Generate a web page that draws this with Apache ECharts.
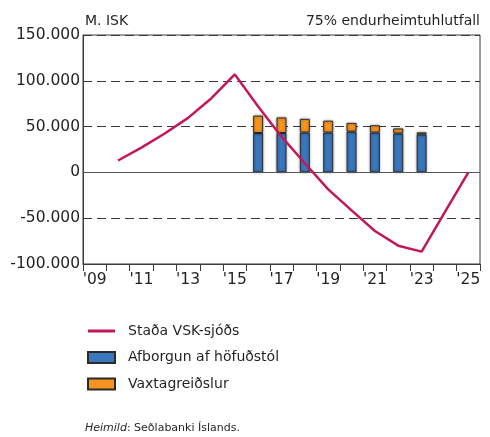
<!DOCTYPE html>
<html>
<head>
<meta charset="utf-8">
<script src="https://cdn.jsdelivr.net/npm/echarts@6/dist/echarts.min.js"></script>
<style>
  html, body { margin: 0; padding: 0; background: #fff; }
  #chart { width: 490px; height: 437px; }
</style>
</head>
<body>
<div id="chart"></div>
<script>
// Years 2009-2025, label every other year
const years = ['2009', '2010', '2011', '2012', '2013', '2014', '2015', '2016', '2017',
  '2018', '2019', '2020', '2021', '2022', '2023', '2024', '2025']
const yearLabels = ["'09", "'10", "'11", "'12", "'13", "'14", "'15", "'16", "'17",
  "'18", "'19", "'20", "'21", "'22", "'23", "'24", "'25"]

// Staða VSK-sjóðs (m. ISK)
const fundBalance = [null, 13000, 27000, 42500, 59500, 81000, 107000, 72000, 39000,
  10000, -18500, -41500, -64000, -80000, -86500, -43000, 0]
// Afborgun af höfuðstól
const principal = [null, null, null, null, null, null, null, 43000, 43000,
  43500, 43500, 44500, 43500, 42500, 41500, null, null]
// Vaxtagreiðslur
const interest = [null, null, null, null, null, null, null, 19000, 17000,
  15000, 13000, 9500, 8000, 5500, 2200, null, null]

const seriesNames = ['Staða VSK-sjóðs', 'Afborgun af höfuðstól', 'Vaxtagreiðslur']

const textColor = '#231f20'
const font = 'DejaVu Sans'

// thin horizontal bar inside a 27x11 box, used as the line legend icon
const lineIcon = 'path://M0,0L27,0L27,0.01Z M0,4L27,4L27,7L0,7Z M0,11L27,11L27,11.01Z'

const chart = echarts.init(document.getElementById('chart'))

const barStyle = (color) => ({
  color,
  borderColor: '#2a2a2a',
  borderWidth: 1,
  shadowColor: 'rgba(0,0,0,0.4)',
  shadowBlur: 3
})

chart.setOption({
  animation: false,
  textStyle: { fontFamily: font, color: textColor },
  title: [
    {
      text: 'M. ISK',
      left: 85, top: 14, padding: 0,
      textStyle: { fontFamily: font, fontSize: 14, fontWeight: 'normal', color: textColor }
    },
    {
      text: '75% endurheimtuhlutfall',
      right: 10, top: 14, padding: 0,
      textStyle: { fontFamily: font, fontSize: 14, fontWeight: 'normal', color: textColor }
    },
    {
      text: '{i|Heimild}: Seðlabanki Íslands.',
      left: 85, top: 423, padding: 0,
      textStyle: {
        fontFamily: font, fontSize: 11, fontWeight: 'normal', color: textColor,
        rich: { i: { fontFamily: font, fontSize: 11, fontStyle: 'italic', color: textColor } }
      }
    }
  ],
  grid: {
    left: 83, right: 10, top: 35, height: 229,
    show: true, borderColor: '#3a3a3a', borderWidth: 1
  },
  legend: {
    orient: 'vertical',
    left: 82, top: 319,
    itemWidth: 27, itemHeight: 11, itemGap: 12.5,
    textStyle: { fontFamily: font, fontSize: 14, color: textColor, padding: [0, 0, 0, 8] },
    data: [
      { name: seriesNames[0], icon: lineIcon },
      { name: seriesNames[1], icon: 'rect' },
      { name: seriesNames[2], icon: 'rect' }
    ]
  },
  xAxis: {
    type: 'category',
    data: yearLabels,
    boundaryGap: true,
    axisLine: { onZero: false, lineStyle: { color: '#3a3a3a', width: 1 } },
    axisTick: { show: true, length: 7, alignWithLabel: false, interval: 0, lineStyle: { color: '#3a3a3a' } },
    axisLabel: { interval: 1, fontFamily: font, fontSize: 15.5, color: textColor, margin: 8 },
    splitLine: { show: false }
  },
  yAxis: {
    type: 'value',
    min: -100000, max: 150000, interval: 50000,
    axisLine: { show: true, lineStyle: { color: '#3a3a3a' } },
    axisTick: { show: false },
    axisLabel: {
      fontFamily: font, fontSize: 15.5, color: textColor, margin: 3,
      formatter: (v) => v === 0 ? '0' : (v / 1000).toFixed(0) + '.000'
    },
    splitLine: { show: true, lineStyle: { color: '#3a3a3a', type: [9, 5], width: 1 } }
  },
  series: [
    {
      name: seriesNames[1],
      type: 'bar',
      stack: 'pay',
      barWidth: 10,
      data: principal,
      itemStyle: barStyle('#3a77bd'),
      markLine: {
        silent: true,
        symbol: 'none',
        label: { show: false },
        lineStyle: { color: '#555', type: 'solid', width: 1 },
        data: [{ yAxis: 0 }]
      }
    },
    {
      name: seriesNames[2],
      type: 'bar',
      stack: 'pay',
      barWidth: 10,
      data: interest,
      itemStyle: barStyle('#f7941e')
    },
    {
      name: seriesNames[0],
      type: 'line',
      data: fundBalance,
      symbol: 'none',
      z: 5,
      lineStyle: { color: '#c2185b', width: 2.5 },
      itemStyle: { color: '#c2185b' }
    }
  ]
})
</script>
</body>
</html>
